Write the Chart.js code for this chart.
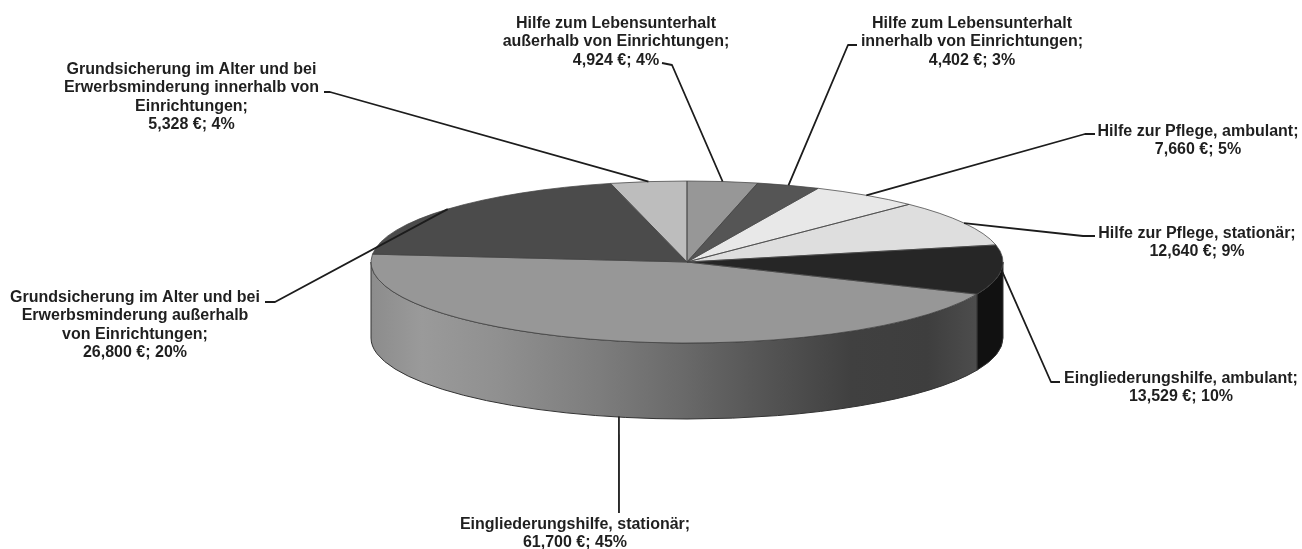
<!DOCTYPE html>
<html>
<head>
<meta charset="utf-8">
<title>Ausgaben nach Hilfearten</title>
<script src="https://cdn.jsdelivr.net/npm/chart.js@4"></script>
<style>
    html, body { margin: 0; padding: 0; background: #fff; }
    canvas { display: block; }
</style>
</head>
<body>
<canvas id="pieChart" width="1302" height="549"></canvas>
<script>
// Werte im Uhrzeigersinn, beginnend oben
var categories = [
    ['Hilfe zum Lebensunterhalt', 'außerhalb von Einrichtungen;'],
    ['Hilfe zum Lebensunterhalt', 'innerhalb von Einrichtungen;'],
    ['Hilfe zur Pflege, ambulant;'],
    ['Hilfe zur Pflege, stationär;'],
    ['Eingliederungshilfe, ambulant;'],
    ['Eingliederungshilfe, stationär;'],
    ['Grundsicherung im Alter und bei', 'Erwerbsminderung außerhalb', 'von Einrichtungen;'],
    ['Grundsicherung im Alter und bei', 'Erwerbsminderung innerhalb von', 'Einrichtungen;']
];
var values = [4924, 4402, 7660, 12640, 13529, 61700, 26800, 5328];
var percents = [4, 3, 5, 9, 10, 45, 20, 4];
var colors = ['#979797', '#555555', '#e8e8e8', '#dedede', '#262626', '#979797', '#4b4b4b', '#bdbdbd'];

// Tortenform auf dem Canvas
var pie = { x: 687, y: 262, rx: 316, ry: 81, depth: 76 };

// Mantelfarben: nur die vorderen Stücke sind sichtbar
var wallColor = { 4: '#111111' };
var wallStops = [
    [0, '#8c8c8c'], [0.08, '#9a9a9a'], [0.2, '#909090'], [0.36, '#7d7d7d'], [0.49, '#6a6a6a'],
    [0.6, '#585858'], [0.76, '#404040'], [0.88, '#3e3e3e'], [0.96, '#4d4d4d'], [1, '#4d4d4d']
];

// Beschriftung: Mitte x, Grundlinie der ersten Zeile, Knick der Führungslinie
var labelPos = [
    { x: 616, y: 28, from: [662, 63], knee: [672, 65] },
    { x: 972, y: 28, from: [857, 45], knee: [848, 45] },
    { x: 1198, y: 136, from: [1095, 134], knee: [1085, 134] },
    { x: 1197, y: 238, from: [1095, 236], knee: [1083, 236] },
    { x: 1181, y: 383, from: [1060, 382], knee: [1051, 382] },
    { x: 575, y: 529, from: [619, 513], knee: [619, 513], dx: 11, drop: true },
    { x: 135, y: 302, from: [265, 302], knee: [275, 302] },
    { x: 191.5, y: 74, from: [324, 92], knee: [330, 92] }
];
var LINE_HEIGHT = 18.3;

function valueLine(i) {
    return values[i].toLocaleString('en-US') + ' €; ' + percents[i] + '%';
}

var tiltedPie = {
    id: 'tiltedPie',
    beforeDatasetsDraw: function (chart) {
        var ctx = chart.ctx;
        var arcs = chart.getDatasetMeta(0).data;

        // Mantel unter der Deckfläche
        var grad = ctx.createLinearGradient(pie.x - pie.rx, 0, pie.x + pie.rx, 0);
        wallStops.forEach(function (s) { grad.addColorStop(s[0], s[1]); });
        arcs.forEach(function (arc, i) {
            var lo = Math.max(arc.startAngle, 0);
            var hi = Math.min(arc.endAngle, Math.PI);
            if (hi <= lo) return;
            ctx.beginPath();
            ctx.ellipse(pie.x, pie.y, pie.rx, pie.ry, 0, lo, hi, false);
            ctx.ellipse(pie.x, pie.y + pie.depth, pie.rx, pie.ry, 0, hi, lo, true);
            ctx.closePath();
            ctx.fillStyle = wallColor[i] || grad;
            ctx.fill();
            ctx.lineWidth = 1;
            ctx.strokeStyle = '#333';
            ctx.stroke();
        });

        // Kreis der Bibliothek zur Ellipse stauchen
        var first = arcs[0];
        ctx.save();
        ctx.translate(pie.x, pie.y);
        ctx.scale(pie.rx / first.outerRadius, pie.ry / first.outerRadius);
        ctx.translate(-first.x, -first.y);
    },
    afterDatasetsDraw: function (chart) {
        var ctx = chart.ctx;
        var arcs = chart.getDatasetMeta(0).data;
        ctx.restore();

        // Kanten der Stücke in gleichmäßiger Strichstärke
        arcs.forEach(function (arc) {
            ctx.beginPath();
            ctx.moveTo(pie.x, pie.y);
            ctx.ellipse(pie.x, pie.y, pie.rx, pie.ry, 0, arc.startAngle, arc.endAngle, false);
            ctx.closePath();
            ctx.lineWidth = 1;
            ctx.strokeStyle = 'rgba(70, 70, 70, 0.75)';
            ctx.stroke();
        });

        // Führungslinien
        ctx.lineWidth = 1.8;
        ctx.strokeStyle = '#1c1c1c';
        ctx.lineJoin = 'round';
        arcs.forEach(function (arc, i) {
            var p = labelPos[i];
            var mid = (arc.startAngle + arc.endAngle) / 2;
            var endX = pie.x + pie.rx * Math.cos(mid) + (p.dx || 0);
            var endY = pie.y + pie.ry * Math.sin(mid) + (p.drop ? pie.depth : 0);
            ctx.beginPath();
            ctx.moveTo(p.from[0], p.from[1]);
            ctx.lineTo(p.knee[0], p.knee[1]);
            ctx.lineTo(endX, endY);
            ctx.stroke();
        });

        // Beschriftungen
        ctx.fillStyle = '#1f1f1f';
        ctx.font = 'bold 16px "Liberation Sans", Arial, sans-serif';
        ctx.textAlign = 'center';
        ctx.textBaseline = 'alphabetic';
        categories.forEach(function (lines, i) {
            var p = labelPos[i];
            lines.concat([valueLine(i)]).forEach(function (text, n) {
                ctx.fillText(text, p.x, p.y + n * LINE_HEIGHT);
            });
        });
    }
};

var ctx = document.getElementById('pieChart').getContext('2d');
new Chart(ctx, {
    type: 'pie',
    data: {
        labels: categories.map(function (c) { return c.join(' '); }),
        datasets: [{
            data: values,
            backgroundColor: colors,
            borderWidth: 0
        }]
    },
    options: {
        responsive: false,
        animation: false,
        events: [],
        layout: { padding: 0 },
        plugins: {
            legend: { display: false },
            tooltip: { enabled: false }
        }
    },
    plugins: [tiltedPie]
});
</script>
</body>
</html>
